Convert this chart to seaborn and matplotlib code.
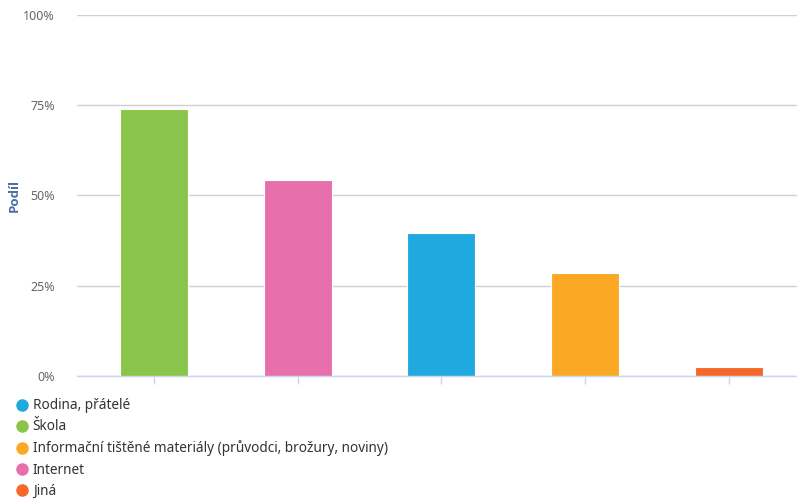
import matplotlib
matplotlib.use("Agg")
import matplotlib.pyplot as plt
from matplotlib.lines import Line2D
from matplotlib.ticker import FixedLocator, FuncFormatter
import seaborn as sns
import pandas as pd

# Data (series order as in legend)
series = ["Rodina, přátelé", "Škola",
          "Informační tištěné materiály (průvodci, brožury, noviny)",
          "Internet", "Jiná"]
values = [39.6, 74.1, 28.6, 54.4, 2.5]
colors = ["#1fa9df", "#8bc44a", "#fba925", "#e76fac", "#f4682a"]
yticks = [0, 25, 50, 75, 100]
ylabel = "Podíl"

sns.set_theme(style="white")
plt.rcParams["font.family"] = ["Noto Sans", "DejaVu Sans"]

df = pd.DataFrame({"kat": series, "podil": values})
df = df.sort_values("podil", ascending=False).reset_index(drop=True)
pal = dict(zip(series, colors))

fig = plt.figure(figsize=(7.97, 5.0), dpi=100)
ax = fig.add_axes([77 / 797, 124.3 / 500, 720 / 797, 360.4 / 500])

sns.barplot(data=df, x="kat", y="podil", hue="kat", palette=pal,
            order=list(df["kat"]), hue_order=list(df["kat"]),
            width=0.473, legend=False, ax=ax, saturation=1,
            edgecolor="white", linewidth=0.8)

ax.set_ylim(0, 100)
ax.set_xlim(-0.536, 4.475)
ax.yaxis.set_major_locator(FixedLocator(yticks))
ax.yaxis.set_major_formatter(FuncFormatter(lambda v, p: f"{int(v)}%"))
ax.grid(axis="y", color="#d0d0d0", linewidth=1)
ax.set_axisbelow(True)
for s in ["top", "right", "left"]:
    ax.spines[s].set_visible(False)
ax.spines["bottom"].set_color("#ccd6eb")
ax.spines["bottom"].set_linewidth(1)
ax.set_xticklabels([])
ax.set_xlabel("")
ax.tick_params(axis="x", bottom=True, length=6, width=1, color="#ccd6eb")
ax.tick_params(axis="y", left=False, labelsize=9, labelcolor="#666666", pad=10)
ax.set_ylabel(ylabel, fontsize=9.5, fontweight="bold", color="#4a6fa0",
              family=["Open Sans", "DejaVu Sans"])
ax.yaxis.set_label_coords(-0.078, 0.5)

handles = [Line2D([0], [0], marker="o", linestyle="", markersize=8,
                  markerfacecolor=c, markeredgecolor=c) for c in colors]
fig.legend(handles, series, loc="upper left", bbox_to_anchor=(0.006, 0.217),
           frameon=False, fontsize=9.8, handletextpad=0.05, labelspacing=0.45,
           borderpad=0, handlelength=1.5, labelcolor="#333333")

fig.savefig("out.png", dpi=100)
